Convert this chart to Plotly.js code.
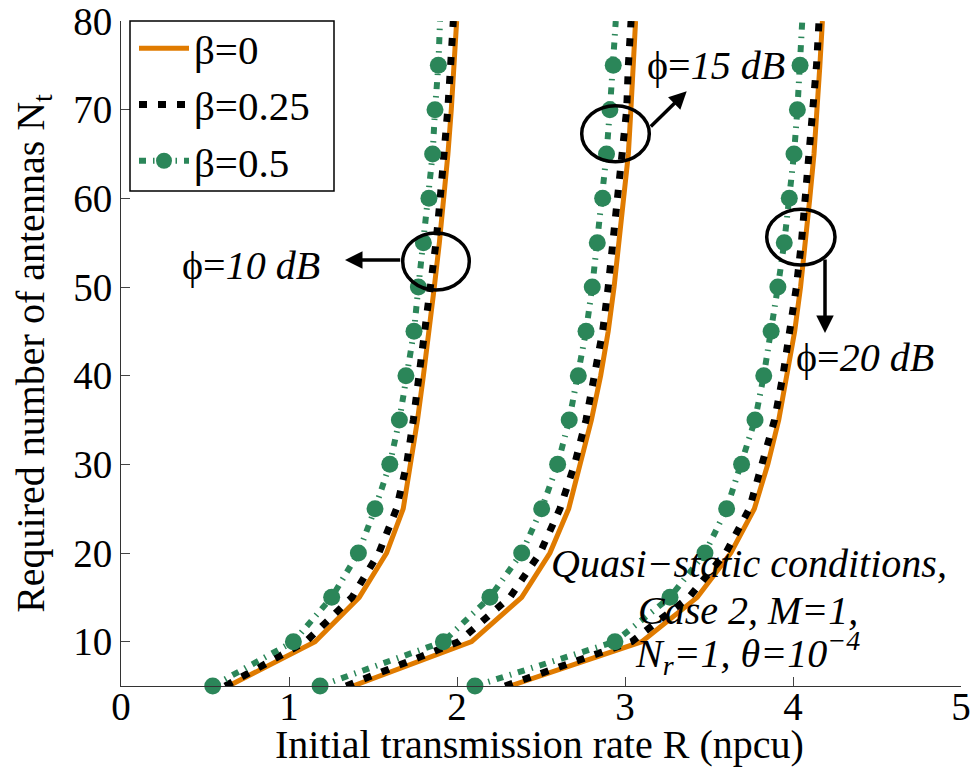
<!DOCTYPE html>
<html>
<head>
<meta charset="utf-8">
<script src="https://cdn.plot.ly/plotly-3.0.1.min.js"></script>
<style>
html,body{margin:0;padding:0;background:#fff;}
#chart{width:975px;height:771px;}
#chart text{font-family:"Liberation Serif","Times New Roman",Times,serif !important;}
</style>
</head>
<body>
<div id="chart"></div>
<script>
// Required number of antennas (y values shared by all curves)
const Nt = [5, 10, 15, 20, 25, 30, 35, 40, 45, 50, 55, 60, 65, 70, 75, 80];

// phi = 10 dB
const R_phi10_b0   = [0.64, 1.155, 1.418, 1.581, 1.68, 1.725, 1.765, 1.80, 1.835, 1.865, 1.895, 1.922, 1.946, 1.966, 1.983, 1.998];
const R_phi10_b025 = [0.62, 1.10, 1.375, 1.535, 1.64, 1.70, 1.74, 1.775, 1.81, 1.845, 1.875, 1.90, 1.925, 1.945, 1.962, 1.978];
const R_phi10_b05  = [0.546, 1.026, 1.254, 1.413, 1.512, 1.60, 1.657, 1.696, 1.744, 1.77, 1.80, 1.833, 1.855, 1.869, 1.889, 1.899];

// phi = 15 dB
const R_phi15_b0   = [1.38, 2.087, 2.385, 2.553, 2.665, 2.735, 2.80, 2.855, 2.90, 2.935, 2.965, 2.995, 3.02, 3.035, 3.05, 3.063];
const R_phi15_b025 = [1.34, 2.01, 2.315, 2.494, 2.613, 2.70, 2.768, 2.82, 2.867, 2.90, 2.93, 2.96, 2.99, 3.01, 3.02, 3.036];
const R_phi15_b05  = [1.185, 1.919, 2.196, 2.385, 2.504, 2.599, 2.668, 2.722, 2.768, 2.805, 2.835, 2.867, 2.89, 2.91, 2.93, 2.945];

// phi = 20 dB
const R_phi20_b0   = [2.315, 3.10, 3.43, 3.63, 3.77, 3.85, 3.915, 3.965, 4.01, 4.045, 4.075, 4.10, 4.125, 4.145, 4.16, 4.175];
const R_phi20_b025 = [2.286, 3.04, 3.38, 3.60, 3.74, 3.82, 3.89, 3.94, 3.985, 4.02, 4.05, 4.075, 4.10, 4.12, 4.14, 4.155];
const R_phi20_b05  = [2.107, 2.94, 3.268, 3.476, 3.605, 3.694, 3.774, 3.826, 3.87, 3.91, 3.948, 3.978, 4.006, 4.026, 4.042, 4.055];

const betaNames = ['β=0', 'β=0.25', 'β=0.5'];
const xTicks = [0, 1, 2, 3, 4, 5];
const yTicks = [10, 20, 30, 40, 50, 60, 70, 80];
const xTitle = 'Initial transmission rate R (npcu)';
const yTitle = 'Required number of antennas N<sub>t</sub>';

const ORANGE = 'rgb(224,123,0)';
const GREEN = 'rgb(43,134,89)';
const FONT = 'Liberation Serif';

const groups = [
  [R_phi10_b0, R_phi15_b0, R_phi20_b0],
  [R_phi10_b025, R_phi15_b025, R_phi20_b025],
  [R_phi10_b05, R_phi15_b05, R_phi20_b05]
];

const styles = [
  {mode: 'lines', line: {color: ORANGE, width: 5}},
  {mode: 'lines', line: {color: 'black', width: 7, dash: '8px,11px'}},
  {mode: 'lines+markers', line: {color: GREEN, width: 6, dash: '7px,7px,1.5px,7px'},
   marker: {color: GREEN, opacity: 1, line: {width: 0}, size: Nt.map(v => v < 80 ? 17 : 0), symbol: 'circle'}}
];

const traces = [];
groups.forEach((grp, bi) => {
  grp.forEach((xs, ci) => {
    const t = Object.assign({
      type: 'scatter', x: xs, y: Nt, name: betaNames[bi],
      legendgroup: 'b' + bi, showlegend: ci === 0, cliponaxis: false,
      hoverinfo: 'skip'
    }, JSON.parse(JSON.stringify(styles[bi])));
    traces.push(t);
  });
});

// helpers converting plot pixel positions to axis / paper coordinates for annotation placement
const px2x = p => (p - 121) / 168;
const py2y = p => (685.25 - p) / 8.85 + 5;
const px2paper = p => (p - 121) / 840;
const py2paper = p => (686 - p) / 665;

const ellipse = (x0p, x1p, y0p, y1p) => ({
  type: 'circle', xref: 'x', yref: 'y',
  x0: px2x(x0p), x1: px2x(x1p), y0: py2y(y1p), y1: py2y(y0p),
  line: {color: 'black', width: 3.5}
});

const arrow = (tx, ty, hx, hy) => ({
  xref: 'x', yref: 'y', axref: 'x', ayref: 'y',
  x: px2x(hx), y: py2y(hy), ax: px2x(tx), ay: py2y(ty),
  text: '', showarrow: true, arrowhead: 2, arrowsize: 1, arrowwidth: 3.5,
  arrowcolor: 'black', standoff: 0, startstandoff: 0
});

const label = (cx, cy, text, size) => ({
  xref: 'x', yref: 'y', x: px2x(cx), y: py2y(cy), text: text,
  showarrow: false, xanchor: 'center', yanchor: 'middle',
  font: {family: FONT, size: size || 40, color: 'black'}
});

const layout = {
  width: 975, height: 771,
  margin: {l: 121, r: 14, t: 21, b: 85},
  paper_bgcolor: 'white', plot_bgcolor: 'white',
  font: {family: FONT, color: 'black'},
  showlegend: true,
  legend: {
    x: px2paper(134), y: py2paper(15), xanchor: 'left', yanchor: 'top',
    bgcolor: 'rgba(0,0,0,0)', borderwidth: 0,
    font: {family: FONT, size: 41, color: 'black'},
    itemwidth: 50, tracegroupgap: 0
  },
  xaxis: {
    range: [0, 5], tickvals: xTicks, ticktext: xTicks.map(String),
    ticks: 'inside', ticklen: 9, tickcolor: '#444', tickwidth: 1,
    ticklabelstandoff: -14, ticklabeloverflow: 'allow',
    showline: true, linecolor: '#333', linewidth: 1, mirror: false,
    showgrid: false, zeroline: false,
    tickfont: {family: FONT, size: 39, color: 'black'}
  },
  yaxis: {
    range: [5, 80], tickvals: yTicks, ticktext: yTicks.map(String),
    ticks: 'inside', ticklen: 9, tickcolor: '#444', tickwidth: 1,
    ticklabeloverflow: 'allow',
    showline: true, linecolor: '#333', linewidth: 1, mirror: false,
    showgrid: false, zeroline: false,
    tickfont: {family: FONT, size: 39, color: 'black'},
    title: {text: yTitle, font: {family: FONT, size: 40, color: 'black'}, standoff: 16}
  },
  shapes: [
    // legend box
    {type: 'rect', xref: 'paper', yref: 'paper', layer: 'above',
     x0: px2paper(130), x1: px2paper(334), y0: py2paper(191), y1: py2paper(21),
     fillcolor: 'white', line: {color: 'black', width: 1.5}},
    ellipse(402.7, 469.3, 233, 290),
    ellipse(581.7, 649.3, 106, 162),
    ellipse(766.7, 835, 209.3, 265)
  ],
  annotations: [
    // x-axis title
    {xref: 'paper', yref: 'paper', x: px2paper(539), y: py2paper(745), text: xTitle,
     showarrow: false, xanchor: 'center', yanchor: 'middle',
     font: {family: FONT, size: 40, color: 'black'}},
    arrow(401.7, 260, 345, 260),
    arrow(649.3, 128.3, 686.7, 91.7),
    arrow(825, 258, 825, 333),
    label(251, 266, 'ϕ=<i>10 dB</i>'),
    label(716, 66, 'ϕ=<i>15 dB</i>'),
    label(865, 357, 'ϕ=<i>20 dB</i>'),
    label(749, 563, '<i>Quasi−static conditions,</i>'),
    label(748, 610, '<i>Case 2, M=1,</i>'),
    label(747, 652, '<i>N<sub>r</sub>=1, θ=10<sup>−4</sup></i>')
  ]
};

Plotly.newPlot('chart', traces, layout, {displayModeBar: false, staticPlot: true});
</script>
</body>
</html>
